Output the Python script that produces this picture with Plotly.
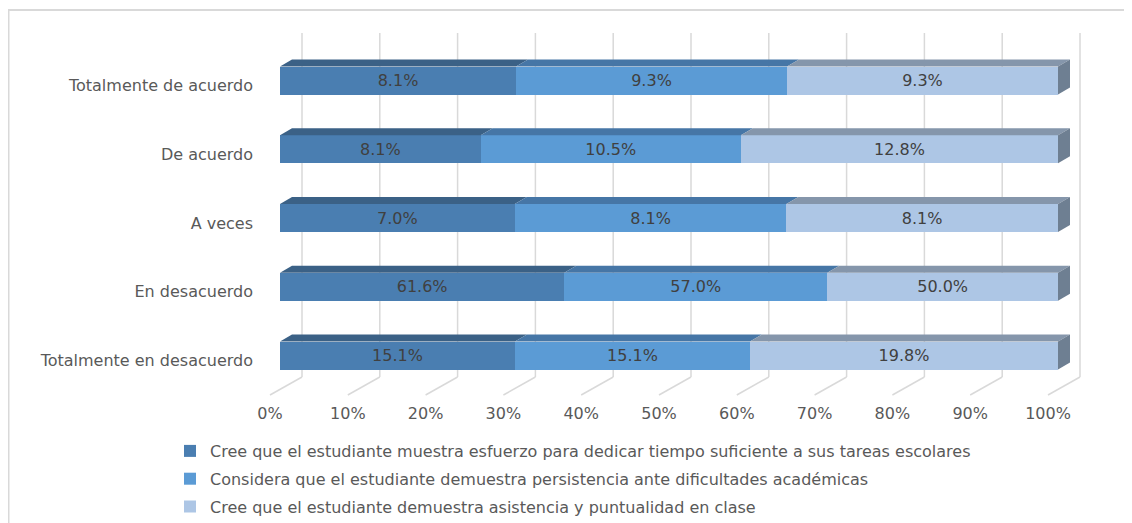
import plotly.graph_objects as go

# ---------------- data ----------------
categories = ["Totalmente en desacuerdo", "En desacuerdo", "A veces", "De acuerdo", "Totalmente de acuerdo"]
series_names = [
    "Cree que el estudiante muestra esfuerzo para dedicar tiempo suficiente a sus tareas escolares",
    "Considera que el estudiante demuestra persistencia ante dificultades académicas",
    "Cree que el estudiante demuestra asistencia y puntualidad en clase",
]
esfuerzo = [15.1, 61.6, 7.0, 8.1, 8.1]
persistencia = [15.1, 57.0, 8.1, 10.5, 9.3]
asistencia = [19.8, 50.0, 8.1, 12.8, 9.3]
x_ticks = [0, 10, 20, 30, 40, 50, 60, 70, 80, 90, 100]
x_tick_labels = ["0%", "10%", "20%", "30%", "40%", "50%", "60%", "70%", "80%", "90%", "100%"]

series = [esfuerzo, persistencia, asistencia]

# ---------------- styles / layout ----------------
front_colors = ["#4a7eb1", "#5b9bd5", "#adc6e5"]
top_colors = ["#3b6186", "#4676a6", "#8596ab"]
side_color = "#6e7f92"
grid_color = "#d9d9d9"
FONT = "DejaVu Sans"
FS = 16

OFF = 8                                   # page body margin (screen px -> figure px)
W, H = 1132 - OFF, 523 - OFF
# pixel positions below are screen coordinates
L, R, T, B = 262, 1100, 30, 398          # plot area
BAR0, BAR100 = 280, 1058                 # front face of bars: 0% / 100%
CTOP, CBOT = 80.5, 355.5                 # centers of top / bottom category
ppx = (BAR100 - BAR0) / 100.0
ppy = (CBOT - CTOP) / (len(categories) - 1)

def px2x(px):
    return (px - BAR0) / ppx

def px2y(py):
    return (CBOT - py) / ppy

def paper_x(px):
    return (px - L) / (R - L)

def paper_y(py):
    return (B - py) / (B - T)

bar_h = 28 / ppy
half = bar_h / 2
dx = 12 / ppx
dy = 7 / ppy
ypos = list(range(len(categories)))

fig = go.Figure()
for j, (name, vals) in enumerate(zip(series_names, series)):
    fig.add_trace(go.Bar(
        y=ypos, x=vals, name=name, orientation="h",
        marker=dict(color=front_colors[j], line=dict(width=0)),
        width=bar_h,
        text=[f"{v:.1f}%" for v in vals],
        textposition="inside", insidetextanchor="middle",
        textfont=dict(family=FONT, size=FS, color="#404040"),
        constraintext="none",
        legendgroup=f"g{j}",
        hoverinfo="skip",
    ))

shapes = []
# back-wall gridlines and floor lines
for t in x_ticks:
    xg = t + 22 / ppx
    shapes.append(dict(type="line", xref="x", yref="y", layer="below",
                       x0=xg, x1=xg, y0=px2y(377), y1=px2y(33),
                       line=dict(color=grid_color, width=1.5)))
    shapes.append(dict(type="line", xref="x", yref="y", layer="below",
                       x0=xg, x1=t - 10 / ppx, y0=px2y(377), y1=px2y(395),
                       line=dict(color=grid_color, width=1.5)))

# 3-D top faces and right side faces, derived from normalised data
for k in ypos:
    tot = sum(s[k] for s in series)
    cum = 0.0
    yt = k + half
    yb = k - half
    for j, s in enumerate(series):
        x0 = cum / tot * 100
        cum += s[k]
        x1 = cum / tot * 100
        shapes.append(dict(type="path", xref="x", yref="y", layer="above",
                           path=f"M {x0},{yt} L {x0+dx},{yt+dy} L {x1+dx},{yt+dy} L {x1},{yt} Z",
                           fillcolor=top_colors[j], line=dict(width=0)))
    shapes.append(dict(type="path", xref="x", yref="y", layer="above",
                       path=f"M 100,{yt} L {100+dx},{yt+dy} L {100+dx},{yb+dy} L 100,{yb} Z",
                       fillcolor=side_color, line=dict(width=0)))

# outer chart border
shapes.append(dict(type="rect", xref="paper", yref="paper", layer="below",
                   x0=paper_x(8.5), x1=paper_x(1160), y0=paper_y(580), y1=paper_y(10),
                   line=dict(color="#d9d9d9", width=2), fillcolor="rgba(0,0,0,0)"))

fig.update_layout(
    width=W, height=H,
    margin=dict(l=L - OFF, r=(W + OFF) - R, t=T - OFF, b=(H + OFF) - B, pad=0, autoexpand=False),
    paper_bgcolor="white", plot_bgcolor="white",
    barmode="stack", barnorm="percent",
    font=dict(family=FONT, size=FS, color="#595959"),
    xaxis=dict(range=[px2x(L), px2x(R)], tickvals=x_ticks, ticktext=x_tick_labels,
               showgrid=False, zeroline=False, showline=False, ticks="",
               ticklabelshift=-10, ticklabelstandoff=4,
               tickfont=dict(family=FONT, size=FS, color="#595959"), fixedrange=True),
    yaxis=dict(range=[px2y(B), px2y(T)], tickvals=ypos, ticktext=categories,
               showgrid=False, zeroline=False, showline=False, ticks="",
               ticklabelshift=5, ticklabelstandoff=8,
               tickfont=dict(family=FONT, size=FS, color="#595959"), fixedrange=True),
    shapes=shapes,
    showlegend=True,
    legend=dict(orientation="v", x=paper_x(170), y=paper_y(434), xanchor="left", yanchor="top",
                traceorder="grouped", tracegroupgap=4, itemwidth=30,
                font=dict(family=FONT, size=FS, color="#595959"),
                bgcolor="rgba(0,0,0,0)"),
)

fig.write_html("out.html")
